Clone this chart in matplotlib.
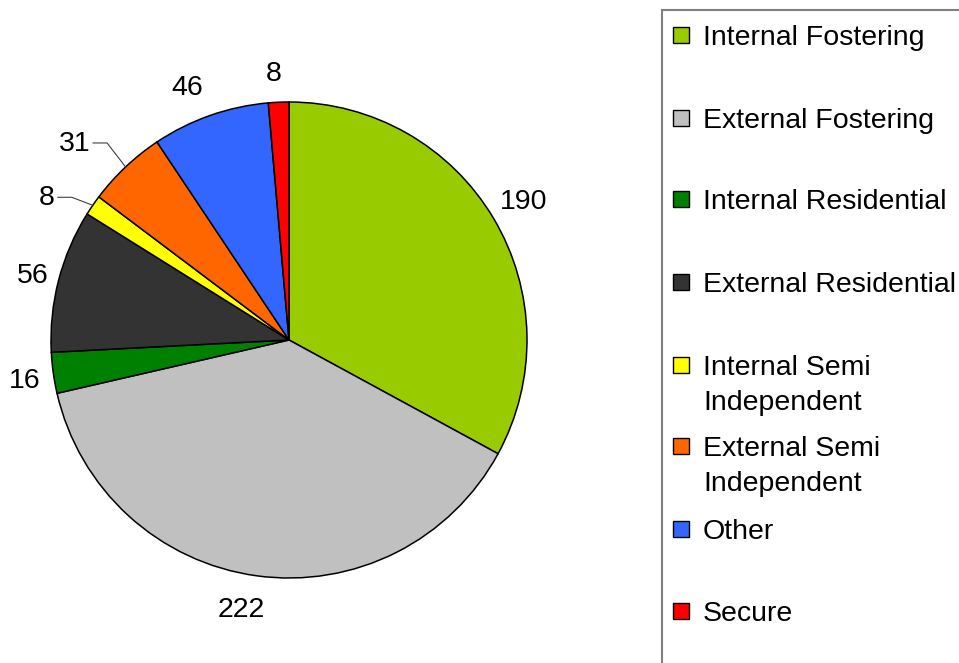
import matplotlib
matplotlib.use("Agg")
import matplotlib.pyplot as plt
from matplotlib.patches import Rectangle
import numpy as np

# ---- data ----
categories = ["Internal Fostering", "External Fostering", "Internal Residential",
              "External Residential", "Internal Semi\nIndependent",
              "External Semi\nIndependent", "Other", "Secure"]
values = [190, 222, 16, 56, 8, 31, 46, 8]
colors = ["#99CC00", "#C0C0C0", "#008000", "#333333", "#FFFF00",
          "#FF6600", "#3366FF", "#FF0000"]

# ---- layout (pixel space) ----
W, H = 959, 663
cx, cy_px, R = 289, 340, 238
label_dist = [1.145, 1.15, 1.123, 1.11, 1.0, 1.0, 1.143, 1.12]
label_dang = [-0.3, -2.2, 0.8, 0.5, 0.0, 0.0, 2.6, 0.7]
# leader lines: elbow offset from wedge edge (px, y up); None = no leader
leader = [None, None, None, None, (-21, 8), (-18.5, 24), None, None]
legend_rows = [35, 118, 199, 282, 365, 446, 529, 611]

plt.rcParams['font.family'] = ['Liberation Sans', 'DejaVu Sans']
FS = 20.5

fig = plt.figure(figsize=(W / 100, H / 100), dpi=100)
ax = fig.add_axes([0, 0, 1, 1])
ax.set_xlim(0, W)
ax.set_ylim(0, H)
ax.axis("off")
ax.set_aspect("equal")

cy = H - cy_px
wedges, _ = ax.pie(values, colors=colors, startangle=90, counterclock=False,
                   center=(cx, cy), radius=R,
                   wedgeprops=dict(edgecolor="black", linewidth=1.1))
ax.set_xlim(0, W)
ax.set_ylim(0, H)

for w, v, d, da, ld in zip(wedges, values, label_dist, label_dang, leader):
    th = np.deg2rad((w.theta1 + w.theta2) / 2)
    ex, ey = cx + R * np.cos(th), cy + R * np.sin(th)
    if ld is not None:
        bx, by = ex + ld[0], ey + ld[1]
        tx = bx - 14
        ax.plot([ex, bx, tx], [ey, by, by], color="#404040", lw=0.8)
        ax.text(tx - 3, by - 1, str(v), ha="right", va="center", fontsize=FS)
    else:
        t2 = th + np.deg2rad(da)
        lx, ly = cx + R * d * np.cos(t2), cy + R * d * np.sin(t2)
        ax.text(lx, ly, str(v), ha="center", va="center", fontsize=FS)

# legend frame
ax.add_patch(Rectangle((662, -50), 400, H - 10 + 50, facecolor="white",
                       edgecolor="#808080", linewidth=1.5, clip_on=False))
for lab, col, ry in zip(categories, colors, legend_rows):
    y = H - ry
    ax.add_patch(Rectangle((673, y - 8), 16, 16, facecolor=col,
                           edgecolor="black", linewidth=1.0))
    ax.text(703, y + 10, lab, ha="left", va="top", fontsize=FS,
            linespacing=1.45)

fig.savefig("out.png", dpi=100)
